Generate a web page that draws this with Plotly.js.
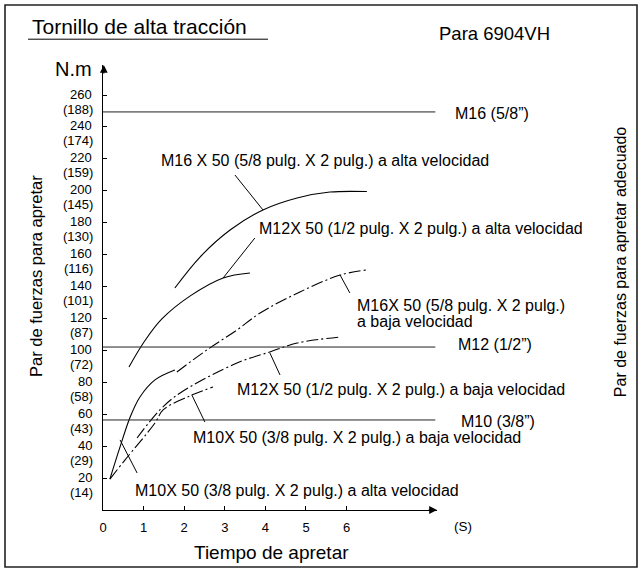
<!DOCTYPE html>
<html>
<head>
<meta charset="utf-8">
<script src="https://cdn.plot.ly/plotly-3.0.1.min.js"></script>
<style>html,body{margin:0;padding:0;background:#fff}#chart{width:642px;height:570px}</style>
</head>
<body>
<div id="chart"></div>
<script>
// ---- data (time in s, torque in N.m) ----
var m16HighX = [1.77, 2.39, 3.13, 3.94, 4.78, 5.59, 6.50];
var m16HighY = [139.1, 158.5, 175.4, 188.0, 195.5, 199.2, 199.5];

var m12HighX = [0.64, 1.03, 1.45, 2.14, 2.96, 3.62];
var m12HighY = [89.6, 106.0, 119.7, 134.0, 145.4, 148.5];

var m10HighX = [0.17, 0.42, 0.67, 0.91, 1.28, 1.77];
var m10HighY = [19.4, 39.5, 58.3, 70.8, 81.5, 87.7];

var m16LowX = [1.82, 2.56, 3.30, 3.87, 4.85, 5.84, 6.50];
var m16LowY = [86.5, 100.3, 112.8, 123.4, 136.6, 147.2, 150.4];

var m12LowX = [0.84, 1.40, 1.90, 3.30, 4.11, 4.78, 5.84];
var m12LowY = [45.1, 62.7, 73.3, 92.1, 99.0, 104.6, 108.4];

var m10LowX = [0.17, 0.54, 1.28, 1.48, 2.14, 2.71];
var m10LowY = [19.4, 31.3, 54.5, 62.7, 71.5, 77.1];

// recommended tightening torque levels
var refNames = ['M16 (5/8”)', 'M12 (1/2”)', 'M10 (3/8”)'];
var refLevels = [249.4, 102.1, 56.4];

// tick labels
var yTickVals = [20, 40, 60, 80, 100, 120, 140, 160, 180, 200, 220, 240, 260];
var yTickKgf = ['14', '29', '43', '58', '72', '87', '101', '116', '130', '145', '159', '174', '188'];
var xTickVals = [0, 1, 2, 3, 4, 5, 6];
var xTickText = ['0', '1', '2', '3', '4', '5', '6'];

var curveLabels = [
  'M16 X 50 (5/8 pulg. X 2 pulg.) a alta velocidad',
  'M12X 50 (1/2 pulg. X 2 pulg.) a alta velocidad',
  'M16X 50 (5/8 pulg. X 2 pulg.)',
  'a baja velocidad',
  'M12X 50 (1/2 pulg. X 2 pulg.) a baja velocidad',
  'M10X 50 (3/8 pulg. X 2 pulg.) a baja velocidad',
  'M10X 50 (3/8 pulg. X 2 pulg.) a alta velocidad'
];

// ---- layout helpers ----
var XMAX = 8.227, YMAX = 278.8;
var FONT = 'Liberation Sans, Arial, Helvetica, sans-serif';
var labelPos = [[1.379, 218.7], [3.793, 176.1], [6.207, 128.4], [6.207, 118.4], [3.251, 75.2], [2.167, 45.7], [0.739, 12.5]];
var refLabelPos = [[1.0479, 0.8899], [1.0569, 0.3708], [1.0659, 0.1978]];
var leaders = [
  [3.25, 209.9, 3.94, 188.0],
  [3.74, 170.4, 2.96, 145.4],
  [6.08, 136.0, 5.84, 147.2],
  [4.36, 84.6, 4.11, 98.4],
  [2.51, 55.1, 2.19, 72.0],
  [0.84, 23.2, 0.42, 43.9]
];

var solid = {color: '#000', width: 1.1, shape: 'spline', smoothing: 1};
var dd = {color: '#000', width: 1.1, shape: 'spline', smoothing: 1, dash: '12px,3px,2px,3px'};

var traces = [
  {x: m16HighX, y: m16HighY, mode: 'lines', line: solid},
  {x: m12HighX, y: m12HighY, mode: 'lines', line: solid},
  {x: m10HighX, y: m10HighY, mode: 'lines', line: solid},
  {x: m16LowX, y: m16LowY, mode: 'lines', line: dd},
  {x: m12LowX, y: m12LowY, mode: 'lines', line: dd},
  {x: m10LowX, y: m10LowY, mode: 'lines', line: dd}
];
refLevels.forEach(function (v) {
  traces.push({x: [0, XMAX * 0.995], y: [v, v], mode: 'lines', line: {color: '#222', width: 1}});
});

var annotations = [];
// y tick labels (two lines: N.m and kgf.in)
yTickVals.forEach(function (v, i) {
  annotations.push({xref: 'paper', yref: 'y', x: -0.026, y: v, xanchor: 'right', yanchor: 'middle',
    yshift: 1, showarrow: false, text: String(v), font: {family: FONT, size: 13, color: '#000'}});
  annotations.push({xref: 'paper', yref: 'y', x: -0.024, y: v, xanchor: 'right', yanchor: 'middle',
    yshift: -14, showarrow: false, text: '(' + yTickKgf[i] + ')', font: {family: FONT, size: 13, color: '#000'}});
});
curveLabels.forEach(function (t, i) {
  annotations.push({xref: 'x', yref: 'y', x: labelPos[i][0], y: labelPos[i][1], xanchor: 'left',
    yanchor: 'middle', align: 'left', showarrow: false, text: t, font: {family: FONT, size: 16, color: '#000'}});
});
refNames.forEach(function (t, i) {
  annotations.push({xref: 'paper', yref: 'paper', x: refLabelPos[i][0], y: refLabelPos[i][1], xanchor: 'left',
    yanchor: 'middle', showarrow: false, text: t, font: {family: FONT, size: 16, color: '#000'}});
});
// texts
annotations.push({xref: 'paper', yref: 'paper', x: -0.2186, y: 1.0854, xanchor: 'left', yanchor: 'middle',
  showarrow: false, text: 'Tornillo de alta tracción', font: {family: FONT, size: 21, color: '#000'}});
annotations.push({xref: 'paper', yref: 'paper', x: 1.0, y: 1.0719, xanchor: 'left', yanchor: 'middle',
  showarrow: false, text: 'Para 6904VH', font: {family: FONT, size: 18.5, color: '#000'}});
annotations.push({xref: 'paper', yref: 'paper', x: -0.0898, y: 0.991, xanchor: 'center', yanchor: 'middle',
  showarrow: false, text: 'N.m', font: {family: FONT, size: 20, color: '#000'}});
annotations.push({xref: 'paper', yref: 'paper', x: -0.2006, y: 0.5258, xanchor: 'center', yanchor: 'middle',
  textangle: -90, showarrow: false, text: 'Par de fuerzas para apretar', font: {family: FONT, size: 16.5, color: '#000'}});
annotations.push({xref: 'paper', yref: 'paper', x: 1.548, y: 0.557, xanchor: 'center', yanchor: 'middle',
  textangle: -90, showarrow: false, text: 'Par de fuerzas para apretar adecuado', font: {family: FONT, size: 16, color: '#000'}});
annotations.push({xref: 'paper', yref: 'paper', x: 0.5045, y: -0.0944, xanchor: 'center', yanchor: 'middle',
  showarrow: false, text: 'Tiempo de apretar', font: {family: FONT, size: 19, color: '#000'}});
annotations.push({xref: 'paper', yref: 'paper', x: 1.0778, y: -0.0382, xanchor: 'center', yanchor: 'middle',
  showarrow: false, text: '(S)', font: {family: FONT, size: 13.5, color: '#000'}});
// axis arrowheads
annotations.push({xref: 'x', yref: 'y', x: XMAX, y: 0, ax: -10, ay: 0, text: '', showarrow: true,
  arrowhead: 2, arrowsize: 1.3, arrowwidth: 1.2, arrowcolor: '#000'});
annotations.push({xref: 'x', yref: 'y', x: 0.02, y: YMAX, ax: 0, ay: 10, text: '', showarrow: true,
  arrowhead: 2, arrowsize: 1.3, arrowwidth: 1.2, arrowcolor: '#000'});

var shapes = [];
leaders.forEach(function (l) {
  shapes.push({type: 'line', xref: 'x', yref: 'y', x0: l[0], y0: l[1], x1: l[2], y1: l[3], line: {color: '#000', width: 1}});
});
shapes.push({type: 'line', xref: 'paper', yref: 'paper', x0: -0.2246, x1: 0.494, y0: 1.058, y1: 1.058, line: {color: '#000', width: 1}});
shapes.push({type: 'rect', xref: 'paper', yref: 'paper', x0: -0.2934, x1: 1.5988, y0: -0.128, y1: 1.1348, line: {color: '#222', width: 1.6}});

var layout = {
  width: 642, height: 570,
  margin: {l: 103, r: 205, t: 65, b: 60},
  paper_bgcolor: '#fff', plot_bgcolor: '#fff',
  showlegend: false,
  font: {family: FONT, size: 13, color: '#000'},
  xaxis: {range: [0, XMAX], showgrid: false, zeroline: false, showline: true, linecolor: '#000', linewidth: 1.2,
    ticks: 'inside', ticklen: 4, tickcolor: '#000', tickvals: xTickVals, ticktext: xTickText,
    tickfont: {family: FONT, size: 13, color: '#000'}, ticklabelstandoff: 5, fixedrange: true},
  yaxis: {range: [0, YMAX], showgrid: false, zeroline: false, showline: true, linecolor: '#000', linewidth: 1.2,
    ticks: 'inside', ticklen: 4, tickcolor: '#000', tickvals: yTickVals, showticklabels: false, fixedrange: true},
  annotations: annotations,
  shapes: shapes
};

Plotly.newPlot('chart', traces, layout, {displayModeBar: false, staticPlot: true});
</script>
</body>
</html>
